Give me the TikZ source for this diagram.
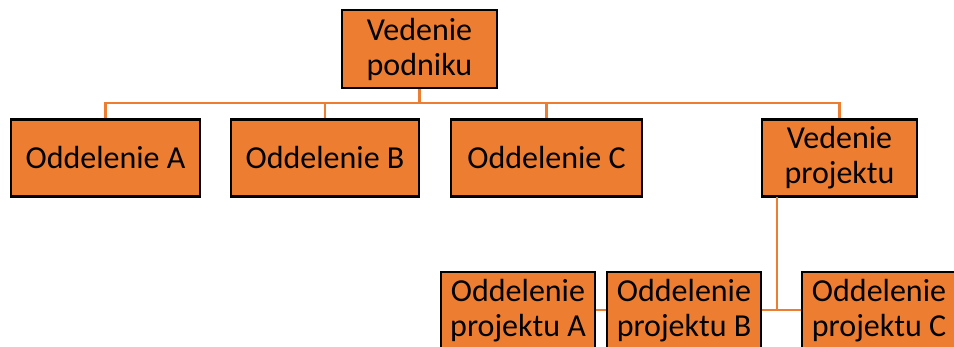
\documentclass[tikz,border=0pt]{standalone}
\usepackage{fontspec}
\setmainfont{Carlito}
\definecolor{orgfill}{HTML}{ED7D31}
\begin{document}
\begin{tikzpicture}[x=1pt,y=-1pt,
  box/.style={draw=black,line width=2.2pt,fill=orgfill,inner sep=0pt,align=center,
    font=\fontsize{32}{35}\selectfont},
  conn/.style={draw=orgfill,line width=2.2pt}]
\useasboundingbox (0,0) rectangle (954,347);
\clip (0,0) rectangle (954,347);
\coordinate (hbar) at (0,103);
\coordinate (lbar) at (0,310);
\node[box,minimum width=155pt,minimum height=78pt] (top) at (419.5,49) {Vedenie\\podniku};
\node[box,minimum width=189pt,minimum height=77pt] (oa) at (105.5,158) {Oddelenie A};
\node[box,minimum width=188pt,minimum height=77pt] (ob) at (325,158) {Oddelenie B};
\node[box,minimum width=191pt,minimum height=77pt] (oc) at (546.5,158) {Oddelenie C};
\node[box,minimum width=155pt,minimum height=77pt] (vp) at (839.5,158) {Vedenie\\projektu};
\node[box,minimum width=154pt,minimum height=78pt] (pa) at (518,311) {Oddelenie\\projektu A};
\node[box,minimum width=154pt,minimum height=78pt] (pb) at (684,311) {Oddelenie\\projektu B};
\node[box,minimum width=154pt,minimum height=78pt] (pc) at (879,311) {Oddelenie\\projektu C};
% connectors
\draw[conn] (top.south) -- (top.south |- hbar);
\draw[conn] (oa.north) -- (oa.north |- hbar) -- (vp.north |- hbar) -- (vp.north);
\draw[conn] (ob.north) -- (ob.north |- hbar);
\draw[conn] (oc.north) -- (oc.north |- hbar);
\coordinate (vpdrop) at (777,197);
\draw[conn] (vpdrop) -- (vpdrop |- lbar);
\draw[conn] (pa.east |- lbar) -- (pb.west |- lbar);
\draw[conn] (pb.east |- lbar) -- (pc.west |- lbar);
\end{tikzpicture}
\end{document}
